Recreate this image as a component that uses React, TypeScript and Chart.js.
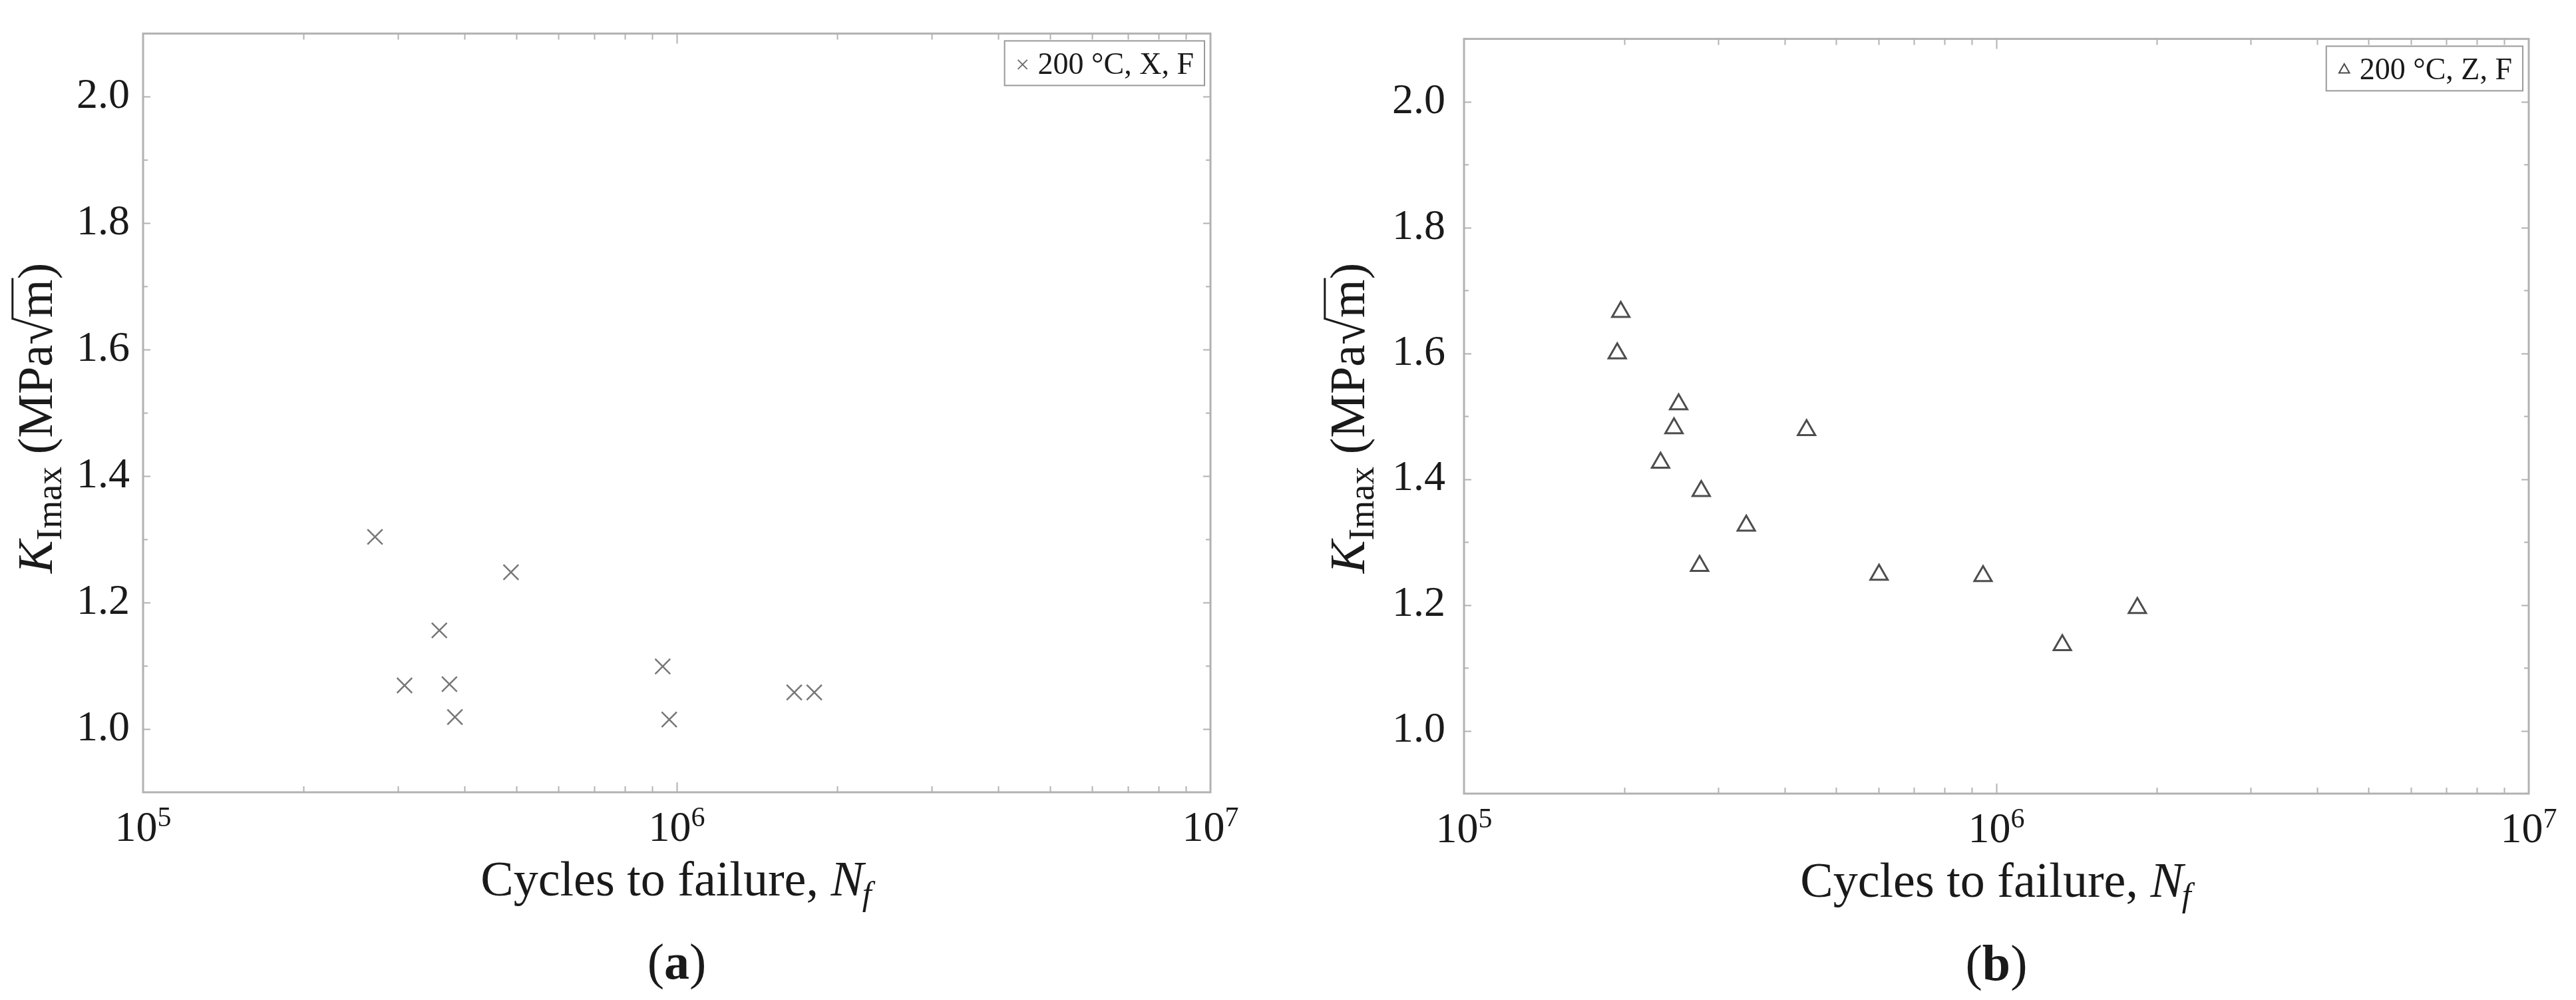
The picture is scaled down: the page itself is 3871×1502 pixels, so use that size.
import React, { useEffect, useRef } from "react";
import { Chart, registerables } from "chart.js";

Chart.register(...registerables);

// ---------------- data ----------------
const xDecadeExponents = [5, 6, 7];
const xMinorMultipliers = [2, 3, 4, 5, 6, 7, 8, 9];
const yTickValues = [1.0, 1.2, 1.4, 1.6, 1.8, 2.0];
const yMinorValues = [1.1, 1.3, 1.5, 1.7, 1.9];

const cyclesA = [272000, 489000, 359000, 309000, 375000, 384000, 941000, 968000, 1660000, 1810000];
const kmaxA = [1.304, 1.248, 1.156, 1.069, 1.071, 1.019, 1.099, 1.015, 1.058, 1.058];

const cyclesB = [197000, 194000, 253000, 248000, 440000, 234000, 279000, 339000, 277000, 602000, 944000, 1330000, 1840000];
const kmaxB = [1.666, 1.6, 1.519, 1.481, 1.478, 1.426, 1.381, 1.326, 1.262, 1.248, 1.246, 1.136, 1.195];

const legendLabelA = "200 °C, X, F";
const legendLabelB = "200 °C, Z, F";
const panelLetters = ["a", "b"];

const xTitleMain = "Cycles to failure, ";
const xTitleVar = "N";
const xTitleSub = "f";
const yTitleVar = "K";
const yTitleSub = "Imax";
const yTitlePre = " (MPa";
const yTitleRoot = "√";
const yTitleRadicand = "m";
const yTitleClose = ")";

// ---------------- styling ----------------
const FONT = "'Liberation Serif', 'Times New Roman', serif";
const TEXT = "#1a1a1a";
const FRAME = "#b2b2b2";

type Spec = {
  canvasLeft: number;
  width: number;
  height: number;
  plotLeft: number;
  plotRight: number;
  plotTop: number;
  plotBottom: number;
  cycles: number[];
  kmax: number[];
  legend: string;
  letter: string;
  marker: "crossRot" | "triangle";
  tickPad: number;
  yTitleX: number;
  yTitleY: number;
  letterDx: number;
};

function drawLegendMarker(ctx: CanvasRenderingContext2D, kind: string, cx: number, cy: number) {
  ctx.save();
  if (kind === "crossRot") {
    ctx.strokeStyle = "#6e6e6e";
    ctx.lineWidth = 2;
    const h = 7;
    ctx.beginPath();
    ctx.moveTo(cx - h, cy - h);
    ctx.lineTo(cx + h, cy + h);
    ctx.moveTo(cx + h, cy - h);
    ctx.lineTo(cx - h, cy + h);
    ctx.stroke();
  } else {
    ctx.strokeStyle = "#4a4a4a";
    ctx.lineWidth = 2;
    const r = 9;
    ctx.beginPath();
    ctx.moveTo(cx, cy - r);
    ctx.lineTo(cx + r * 0.866, cy + r * 0.5);
    ctx.lineTo(cx - r * 0.866, cy + r * 0.5);
    ctx.closePath();
    ctx.stroke();
  }
  ctx.restore();
}

function decorPlugin(spec: Spec) {
  return {
    id: "decor" + spec.letter,
    afterDraw(chart: any) {
      const ctx: CanvasRenderingContext2D = chart.ctx;
      const { left, right, top, bottom } = chart.chartArea;
      const xs = chart.scales.x;
      const ys = chart.scales.y;
      ctx.save();

      // frame
      ctx.strokeStyle = FRAME;
      ctx.lineWidth = 3;
      ctx.strokeRect(left, top, right - left, bottom - top);

      // x ticks (inward, top and bottom)
      ctx.lineWidth = 2;
      ctx.beginPath();
      for (const d of xDecadeExponents) {
        const base = Math.pow(10, d);
        const mults = [1, ...xMinorMultipliers];
        for (const m of mults) {
          const v = base * m;
          if (v <= 1e5 || v >= 1e7) continue;
          const px = Math.round(xs.getPixelForValue(v)) + 0.5;
          const len = m === 1 ? 15 : 9;
          ctx.moveTo(px, bottom);
          ctx.lineTo(px, bottom - len);
          ctx.moveTo(px, top);
          ctx.lineTo(px, top + len);
        }
      }
      // y ticks (inward, left and right)
      const yAll = [...yTickValues.map((v) => [v, 11]), ...yMinorValues.map((v) => [v, 7])];
      for (const [v, len] of yAll) {
        const py = Math.round(ys.getPixelForValue(v)) + 0.5;
        ctx.moveTo(left, py);
        ctx.lineTo(left + len, py);
        ctx.moveTo(right, py);
        ctx.lineTo(right - len, py);
      }
      ctx.stroke();

      // x tick labels 10^n
      ctx.fillStyle = TEXT;
      ctx.textBaseline = "alphabetic";
      ctx.textAlign = "left";
      for (const d of xDecadeExponents) {
        const px = xs.getPixelForValue(Math.pow(10, d));
        ctx.font = `64px ${FONT}`;
        const w10 = ctx.measureText("10").width;
        ctx.font = `42px ${FONT}`;
        const we = ctx.measureText(String(d)).width;
        const start = px - (w10 + we) / 2;
        ctx.font = `64px ${FONT}`;
        ctx.fillText("10", start, bottom + 73);
        ctx.font = `42px ${FONT}`;
        ctx.fillText(String(d), start + w10, bottom + 51);
      }

      // x title
      {
        const fMain = `74px ${FONT}`;
        const fVar = `italic 74px ${FONT}`;
        const fSub = `italic 50px ${FONT}`;
        ctx.font = fMain;
        const w1 = ctx.measureText(xTitleMain).width;
        ctx.font = fVar;
        const w2 = ctx.measureText(xTitleVar).width;
        ctx.font = fSub;
        const w3 = ctx.measureText(xTitleSub).width;
        const cx = (left + right) / 2;
        let x = cx - (w1 + w2 + w3) / 2;
        const by = bottom + 155;
        ctx.font = fMain;
        ctx.fillText(xTitleMain, x, by);
        x += w1;
        ctx.font = fVar;
        ctx.fillText(xTitleVar, x, by);
        x += w2 - 2;
        ctx.font = fSub;
        ctx.fillText(xTitleSub, x, by + 14);
      }

      // y title (rotated)
      {
        ctx.save();
        ctx.translate(spec.yTitleX, spec.yTitleY);
        ctx.rotate(-Math.PI / 2);
        const big = 74;
        const fK = `italic ${big}px ${FONT}`;
        const fS = `54px ${FONT}`;
        const fR = `${big}px ${FONT}`;
        ctx.font = fK;
        const wK = ctx.measureText(yTitleVar).width;
        ctx.font = fS;
        const wS = ctx.measureText(yTitleSub).width;
        ctx.font = fR;
        const wP = ctx.measureText(yTitlePre).width;
        const wR = ctx.measureText(yTitleRoot).width;
        const wM = ctx.measureText(yTitleRadicand).width;
        const wC = ctx.measureText(yTitleClose).width;
        const total = wK + wS + wP + wR + wM + wC;
        let x = -total / 2;
        ctx.font = fK;
        ctx.fillText(yTitleVar, x, 0);
        x += wK;
        ctx.font = fS;
        ctx.fillText(yTitleSub, x, 14);
        x += wS;
        ctx.font = fR;
        ctx.fillText(yTitlePre, x, 0);
        x += wP;
        ctx.fillText(yTitleRoot, x, 0);
        const rootEnd = x + wR;
        x += wR;
        ctx.fillText(yTitleRadicand, x, 0);
        x += wM;
        ctx.strokeStyle = TEXT;
        ctx.lineWidth = 3;
        ctx.beginPath();
        ctx.moveTo(rootEnd - 3, -big * 0.8);
        ctx.lineTo(x + 2, -big * 0.8);
        ctx.stroke();
        ctx.fillText(yTitleClose, x, 0);
        ctx.restore();
      }

      // legend box
      {
        ctx.font = `46px ${FONT}`;
        const tw = ctx.measureText(spec.legend).width;
        const padL = 18;
        const mw = 18;
        const gap = 14;
        const padR = 16;
        const bw = padL + mw + gap + tw + padR;
        const bh = 67;
        const bx = right - 9 - bw;
        const by = top + 11;
        ctx.fillStyle = "#ffffff";
        ctx.fillRect(bx, by, bw, bh);
        ctx.strokeStyle = "#9a9a9a";
        ctx.lineWidth = 2;
        ctx.strokeRect(bx, by, bw, bh);
        drawLegendMarker(ctx, spec.marker, bx + padL + mw / 2, by + bh / 2 + 2);
        ctx.fillStyle = TEXT;
        ctx.fillText(spec.legend, bx + padL + mw + gap, by + bh / 2 + 16);
      }

      // panel letter "(a)"
      {
        const fR = `76px ${FONT}`;
        const fB = `bold 76px ${FONT}`;
        ctx.font = fR;
        const wo = ctx.measureText("(").width;
        const wc = ctx.measureText(")").width;
        ctx.font = fB;
        const wl = ctx.measureText(spec.letter).width;
        const cx = (left + right) / 2 + spec.letterDx;
        let x = cx - (wo + wl + wc) / 2;
        const by = bottom + 280;
        ctx.font = fR;
        ctx.fillText("(", x, by);
        x += wo;
        ctx.font = fB;
        ctx.fillText(spec.letter, x, by);
        x += wl;
        ctx.font = fR;
        ctx.fillText(")", x, by);
      }

      ctx.restore();
    },
  };
}

function buildConfig(spec: Spec): any {
  const isCross = spec.marker === "crossRot";
  return {
    type: "scatter",
    data: {
      datasets: [
        {
          label: spec.legend,
          data: spec.cycles.map((c, i) => ({ x: c, y: spec.kmax[i] })),
          pointStyle: spec.marker,
          pointRadius: isCross ? 16 : 15,
          pointBorderWidth: isCross ? 2.5 : 3,
          borderColor: isCross ? "#777777" : "#4d4d4d",
          backgroundColor: "rgba(255,255,255,0)",
        },
      ],
    },
    options: {
      responsive: false,
      maintainAspectRatio: false,
      animation: false,
      devicePixelRatio: 1,
      layout: {
        padding: { left: 0, top: spec.plotTop, right: spec.width - spec.plotRight, bottom: 0 },
      },
      plugins: {
        legend: { display: false },
        tooltip: { enabled: false },
      },
      scales: {
        x: {
          type: "logarithmic",
          min: 1e5,
          max: 1e7,
          grid: { display: false },
          border: { display: false },
          ticks: { display: false },
          afterFit: (s: any) => {
            s.height = spec.height - spec.plotBottom;
          },
        },
        y: {
          type: "linear",
          min: 0.9,
          max: 2.1,
          grid: { display: false },
          border: { display: false },
          afterBuildTicks: (s: any) => {
            s.ticks = yTickValues.map((v) => ({ value: v }));
          },
          ticks: {
            font: { family: FONT, size: 64 },
            color: TEXT,
            padding: spec.tickPad,
            callback: (v: any) => Number(v).toFixed(1),
          },
          afterFit: (s: any) => {
            s.width = spec.plotLeft;
          },
        },
      },
    },
    plugins: [decorPlugin(spec)],
  };
}

const specA: Spec = {
  canvasLeft: 0,
  width: 1936,
  height: 1502,
  plotLeft: 215,
  plotRight: 1819,
  plotTop: 41,
  plotBottom: 1190,
  cycles: cyclesA,
  kmax: kmaxA,
  legend: legendLabelA,
  letter: panelLetters[0],
  marker: "crossRot",
  tickPad: 12,
  yTitleX: 78,
  yTitleY: 628,
  letterDx: 0,
};

const specB: Spec = {
  canvasLeft: 1936,
  width: 1935,
  height: 1502,
  plotLeft: 264,
  plotRight: 1864,
  plotTop: 42,
  plotBottom: 1192,
  cycles: cyclesB,
  kmax: kmaxB,
  legend: legendLabelB,
  letter: panelLetters[1],
  marker: "triangle",
  tickPad: 20,
  yTitleX: 114,
  yTitleY: 628,
  letterDx: 0,
};

function Panel({ spec }: { spec: Spec }) {
  const ref = useRef<HTMLCanvasElement | null>(null);
  useEffect(() => {
    if (!ref.current) return;
    const chart = new Chart(ref.current, buildConfig(spec));
    return () => chart.destroy();
  }, [spec]);
  return (
    <canvas
      ref={ref}
      width={spec.width}
      height={spec.height}
      style={{ position: "absolute", left: spec.canvasLeft, top: 0, width: spec.width, height: spec.height }}
    />
  );
}

export default function App() {
  return (
    <div
      style={{
        position: "absolute",
        left: 0,
        top: 0,
        width: 3871,
        height: 1502,
        background: "#ffffff",
        overflow: "hidden",
      }}
    >
      <Panel spec={specA} />
      <Panel spec={specB} />
    </div>
  );
}
